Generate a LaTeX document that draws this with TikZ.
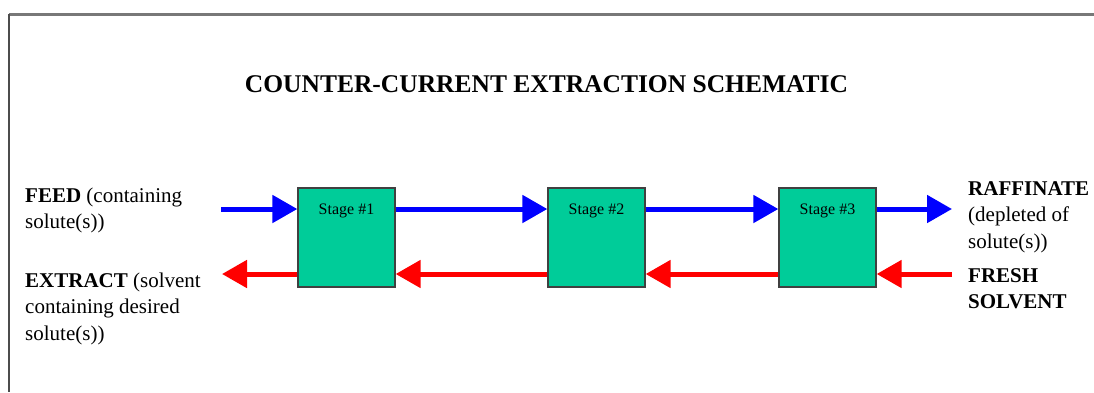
\documentclass[tikz,border=0pt]{standalone}
\usepackage{fontspec}
\setmainfont{Liberation Serif}
\usetikzlibrary{arrows.meta}
\definecolor{stagegreen}{RGB}{0,204,153}
\definecolor{framegray}{RGB}{120,120,120}
\newcommand{\lines}[1]{\begin{tabular}[t]{@{}l@{}}#1\end{tabular}}
\begin{document}
\begin{tikzpicture}[x=1pt,y=-1pt,
  stagebox/.style={draw=black!75,line width=1.3pt,fill=stagegreen,minimum width=97pt,minimum height=99pt,inner sep=0pt},
  stagelabel/.style={anchor=base,yshift=-27pt,font=\fontsize{16}{19}\selectfont},
  bodytext/.style={anchor=base west,inner sep=0pt,font=\fontsize{21}{26.5}\selectfont},
  fwd/.style={draw=blue,line width=5pt,-{Triangle[length=25pt,width=27pt]}},
  bwd/.style={draw=red,line width=5pt,-{Triangle[length=25pt,width=27pt]}}]
\useasboundingbox (0,0) rectangle (1094,392);
% frame
\draw[framegray,line width=3pt] (9,14) -- (1094,14);
\draw[black!70,line width=2pt] (9,14) -- (9,392);
% title
\node[anchor=base,inner sep=0pt,font=\fontsize{25.5}{30}\selectfont\bfseries] (title) at (546.5,92) {COUNTER-CURRENT EXTRACTION SCHEMATIC};
% stages
\node[stagebox,label={[stagelabel]north:Stage \#1}] (s1) at (346.5,237.5) {};
\node[stagebox,label={[stagelabel]north:Stage \#2}] (s2) at (596.5,237.5) {};
\node[stagebox,label={[stagelabel]north:Stage \#3}] (s3) at (827.5,237.5) {};
% texts
\node[bodytext] (feed) at (25,202) {\lines{\textbf{FEED} (containing\\solute(s))}};
\node[bodytext] (extract) at (25,287) {\lines{\textbf{EXTRACT} (solvent\\containing desired\\solute(s))}};
\node[bodytext] (raff) at (968,195) {\lines{\textbf{RAFFINATE}\\(depleted of\\solute(s))}};
\node[bodytext] (fresh) at (968,282) {\lines{\textbf{FRESH}\\\textbf{SOLVENT}}};
% arrow end points
\coordinate (feedin) at (221,209);
\coordinate (raffout) at (952,209);
\coordinate (extout) at (222,274);
\coordinate (freshin) at (952,274);
% blue (feed) arrows
\draw[fwd] (feedin) -- (feedin -| s1.west);
\draw[fwd] (s1.east |- feedin) -- (s2.west |- feedin);
\draw[fwd] (s2.east |- feedin) -- (s3.west |- feedin);
\draw[fwd] (s3.east |- feedin) -- (raffout);
% red (solvent) arrows
\draw[bwd] (freshin) -- (freshin -| s3.east);
\draw[bwd] (s3.west |- freshin) -- (s2.east |- freshin);
\draw[bwd] (s2.west |- freshin) -- (s1.east |- freshin);
\draw[bwd] (s1.west |- freshin) -- (extout);
\end{tikzpicture}
\end{document}
